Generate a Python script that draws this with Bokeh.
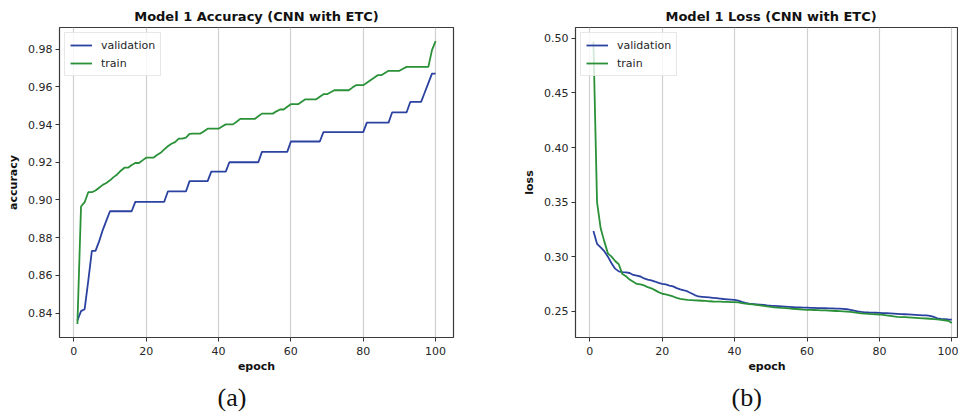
from bokeh.plotting import figure
from bokeh.layouts import row
from bokeh.models import Range1d, FixedTicker, NumeralTickFormatter, Title
from bokeh.embed import file_html
from bokeh.resources import INLINE

# ---------------- data ----------------
epochs = list(range(1, 101))

val_acc = [
    0.836, 0.841, 0.842, 0.857, 0.873, 0.873, 0.878, 0.884, 0.889, 0.894,
    0.894, 0.894, 0.894, 0.894, 0.894, 0.894,
    0.899, 0.899, 0.899, 0.899, 0.899, 0.899, 0.899, 0.899, 0.899,
    0.9045, 0.9045, 0.9045, 0.9045, 0.9045, 0.9045,
    0.910, 0.910, 0.910, 0.910, 0.910, 0.910,
    0.915, 0.915, 0.915, 0.915, 0.915,
    0.920, 0.920, 0.920, 0.920, 0.920, 0.920, 0.920, 0.920, 0.920,
    0.9255, 0.9255, 0.9255, 0.9255, 0.9255, 0.9255, 0.9255, 0.9255,
    0.931, 0.931, 0.931, 0.931, 0.931, 0.931, 0.931, 0.931, 0.931,
    0.936, 0.936, 0.936, 0.936, 0.936, 0.936, 0.936, 0.936, 0.936, 0.936, 0.936, 0.936,
    0.941, 0.941, 0.941, 0.941, 0.941, 0.941, 0.941,
    0.9465, 0.9465, 0.9465, 0.9465, 0.9465,
    0.952, 0.952, 0.952, 0.952,
    0.957, 0.962, 0.967, 0.967,
]

train_acc = [
    0.8342, 0.8965, 0.8988, 0.9041, 0.9041, 0.9050, 0.9065, 0.9080, 0.9090, 0.9104,
    0.9121, 0.9135, 0.9155, 0.9171, 0.9171, 0.9185, 0.9196, 0.9196, 0.9210, 0.9224,
    0.9224, 0.9224, 0.9238, 0.9250, 0.9268, 0.9285, 0.9298, 0.9307, 0.9325, 0.9325,
    0.9330, 0.9350, 0.9352, 0.9352, 0.9352, 0.9365, 0.9378, 0.9378, 0.9378, 0.9378,
    0.9390, 0.9401, 0.9401, 0.9401, 0.9415, 0.9430, 0.9430, 0.9430, 0.9430, 0.9430,
    0.9444, 0.9458, 0.9458, 0.9458, 0.9458, 0.9470, 0.9480, 0.9480, 0.9494, 0.9508,
    0.9508, 0.9508, 0.9521, 0.9534, 0.9534, 0.9534, 0.9534, 0.9548, 0.9561, 0.9561,
    0.9571, 0.9582, 0.9582, 0.9582, 0.9582, 0.9582, 0.9596, 0.9609, 0.9609, 0.9609,
    0.9622, 0.9635, 0.9648, 0.9662, 0.9662, 0.9674, 0.9685, 0.9685, 0.9685, 0.9685,
    0.9696, 0.9706, 0.9706, 0.9706, 0.9706, 0.9706, 0.9706, 0.9706, 0.9795, 0.9843,
]

train_loss = [
    0.497, 0.350, 0.326, 0.314, 0.303, 0.300, 0.296, 0.293, 0.284, 0.282,
    0.279, 0.277, 0.275, 0.2745, 0.2737, 0.272, 0.271, 0.2693, 0.2675, 0.266,
    0.2655, 0.2646, 0.2635, 0.2622, 0.2614, 0.2608, 0.2604, 0.2602, 0.2600, 0.2598,
    0.2596, 0.2594, 0.2591, 0.2589, 0.2588, 0.2587, 0.2586, 0.2585, 0.2584, 0.2583,
    0.2580, 0.2575, 0.2570, 0.2566, 0.2562, 0.2558, 0.2554, 0.2549, 0.2544, 0.2540,
    0.2536, 0.2533, 0.2530, 0.2528, 0.2525, 0.2522, 0.2520, 0.2518, 0.2515, 0.2513,
    0.2512, 0.2511, 0.2510, 0.2508, 0.2507, 0.2505, 0.2504, 0.2502, 0.2500, 0.2498,
    0.2496, 0.2493, 0.2490, 0.2485, 0.2480, 0.2477, 0.2475, 0.2473, 0.2471, 0.2470,
    0.2467, 0.2462, 0.2457, 0.2452, 0.2448, 0.2446, 0.2445, 0.2443, 0.2441, 0.2439,
    0.2437, 0.2435, 0.2433, 0.2431, 0.2428, 0.2425, 0.2421, 0.2417, 0.2412, 0.2391,
]

val_loss = [
    0.3234, 0.3118, 0.3085, 0.3050, 0.3000, 0.2940, 0.2890, 0.2865, 0.2858, 0.2855,
    0.2850, 0.2832, 0.2825, 0.2818, 0.2800, 0.2790, 0.2782, 0.2772, 0.2760, 0.2751,
    0.2745, 0.2735, 0.2728, 0.2712, 0.2700, 0.2692, 0.2681, 0.2665, 0.2648, 0.2635,
    0.2632, 0.2629, 0.2626, 0.2623, 0.2620, 0.2616, 0.2612, 0.2609, 0.2606, 0.2603,
    0.2596, 0.2585, 0.2576, 0.2570, 0.2566, 0.2563, 0.2560, 0.2557, 0.2553, 0.2550,
    0.2548, 0.2546, 0.2544, 0.2542, 0.2540, 0.2538, 0.2536, 0.2535, 0.2533, 0.2532,
    0.2531, 0.2530, 0.2529, 0.2528, 0.2527, 0.2526, 0.2525, 0.2524, 0.2523, 0.2521,
    0.2518, 0.2512, 0.2505, 0.2498, 0.2493, 0.2490, 0.2488, 0.2487, 0.2486, 0.2485,
    0.2483, 0.2482, 0.2480, 0.2478, 0.2476, 0.2474, 0.2472, 0.2470, 0.2468, 0.2466,
    0.2464, 0.2462, 0.2461, 0.2458, 0.2448, 0.2435, 0.2430, 0.2427, 0.2424, 0.2422,
]

x_ticks = [0, 20, 40, 60, 80, 100]
acc_ticks = [0.84, 0.86, 0.88, 0.90, 0.92, 0.94, 0.96, 0.98]
loss_ticks = [0.25, 0.30, 0.35, 0.40, 0.45, 0.50]

series_names = ["validation", "train"]
series_colors = ["#2b42a0", "#2a9138"]

FONT = "DejaVu Sans"


def make_fig(title, ylabel, width, x_end, y_start, y_end, yticks,
             b_left, b_right, caption, cap_offset, title_align, title_offset, ys):
    p = figure(width=width, height=416, output_backend="svg", toolbar_location=None,
               x_range=Range1d(-3.95, x_end), y_range=Range1d(y_start, y_end),
               min_border_left=b_left, min_border_right=b_right,
               min_border_top=27, min_border_bottom=79)
    p.background_fill_color = "white"
    p.border_fill_color = "white"
    p.outline_line_color = "#3a3a3a"
    p.outline_line_width = 1.2

    p.title.text = title
    p.title.align = title_align
    p.title.offset = title_offset
    p.title.text_font = FONT
    p.title.text_font_size = "13px"
    p.title.text_font_style = "bold"
    p.title.text_color = "#111111"
    p.title.standoff = 8

    for name, color, y in zip(series_names, series_colors, ys):
        p.line(epochs, y, line_color=color, line_width=1.8, legend_label=name)

    for ax in (p.xaxis[0], p.yaxis[0]):
        ax.axis_line_color = None
        ax.major_tick_in = 0
        ax.major_tick_out = 4
        ax.major_tick_line_color = "#333333"
        ax.minor_tick_line_color = None
        ax.major_label_text_font = FONT
        ax.major_label_text_font_size = "11px"
        ax.major_label_text_color = "#262626"
        ax.axis_label_text_font = FONT
        ax.axis_label_text_font_size = "11px"
        ax.axis_label_text_font_style = "bold"
        ax.axis_label_text_color = "#111111"
    p.xaxis.major_label_standoff = 5
    p.xaxis.axis_label_standoff = 2
    p.yaxis.major_label_standoff = 3
    p.yaxis.axis_label_standoff = 5

    p.xaxis.ticker = FixedTicker(ticks=x_ticks)
    p.yaxis.ticker = FixedTicker(ticks=yticks)
    p.yaxis.formatter = NumeralTickFormatter(format="0.00")
    p.xaxis.axis_label = "epoch"
    p.yaxis.axis_label = ylabel

    p.xgrid.ticker = FixedTicker(ticks=x_ticks)
    p.xgrid.grid_line_color = "#cfcfcf"
    p.xgrid.grid_line_width = 1.2
    p.ygrid.visible = False

    lg = p.legend[0]
    lg.location = "top_left"
    lg.margin = 5
    lg.padding = 5
    lg.spacing = 4
    lg.glyph_width = 22
    lg.glyph_height = 14
    lg.label_standoff = 9
    lg.label_text_font = FONT
    lg.label_text_font_size = "11px"
    lg.label_text_color = "#262626"
    lg.border_line_color = "#d0d0d0"
    lg.border_line_width = 1
    lg.background_fill_alpha = 0.8

    p.add_layout(Title(text=caption, align="left", offset=cap_offset,
                       text_font="Liberation Serif", text_font_size="26px",
                       text_font_style="normal", text_color="#111111"), "below")
    return p


p1 = make_fig("Model 1 Accuracy (CNN with ETC)", "accuracy", 480, 104.95,
              0.827, 0.9915, acc_ticks, 59, 27, "(a)", 158, "center", 0,
              [val_acc, train_acc])
p2 = make_fig("Model 1 Loss (CNN with ETC)", "loss", 478, 101.85,
              0.2259, 0.510, loss_ticks, 95, 0, "(b)", 156, "left", 90,
              [val_loss, train_loss])

layout = row(p1, p2)
open("out.html", "w").write(file_html(layout, INLINE))
